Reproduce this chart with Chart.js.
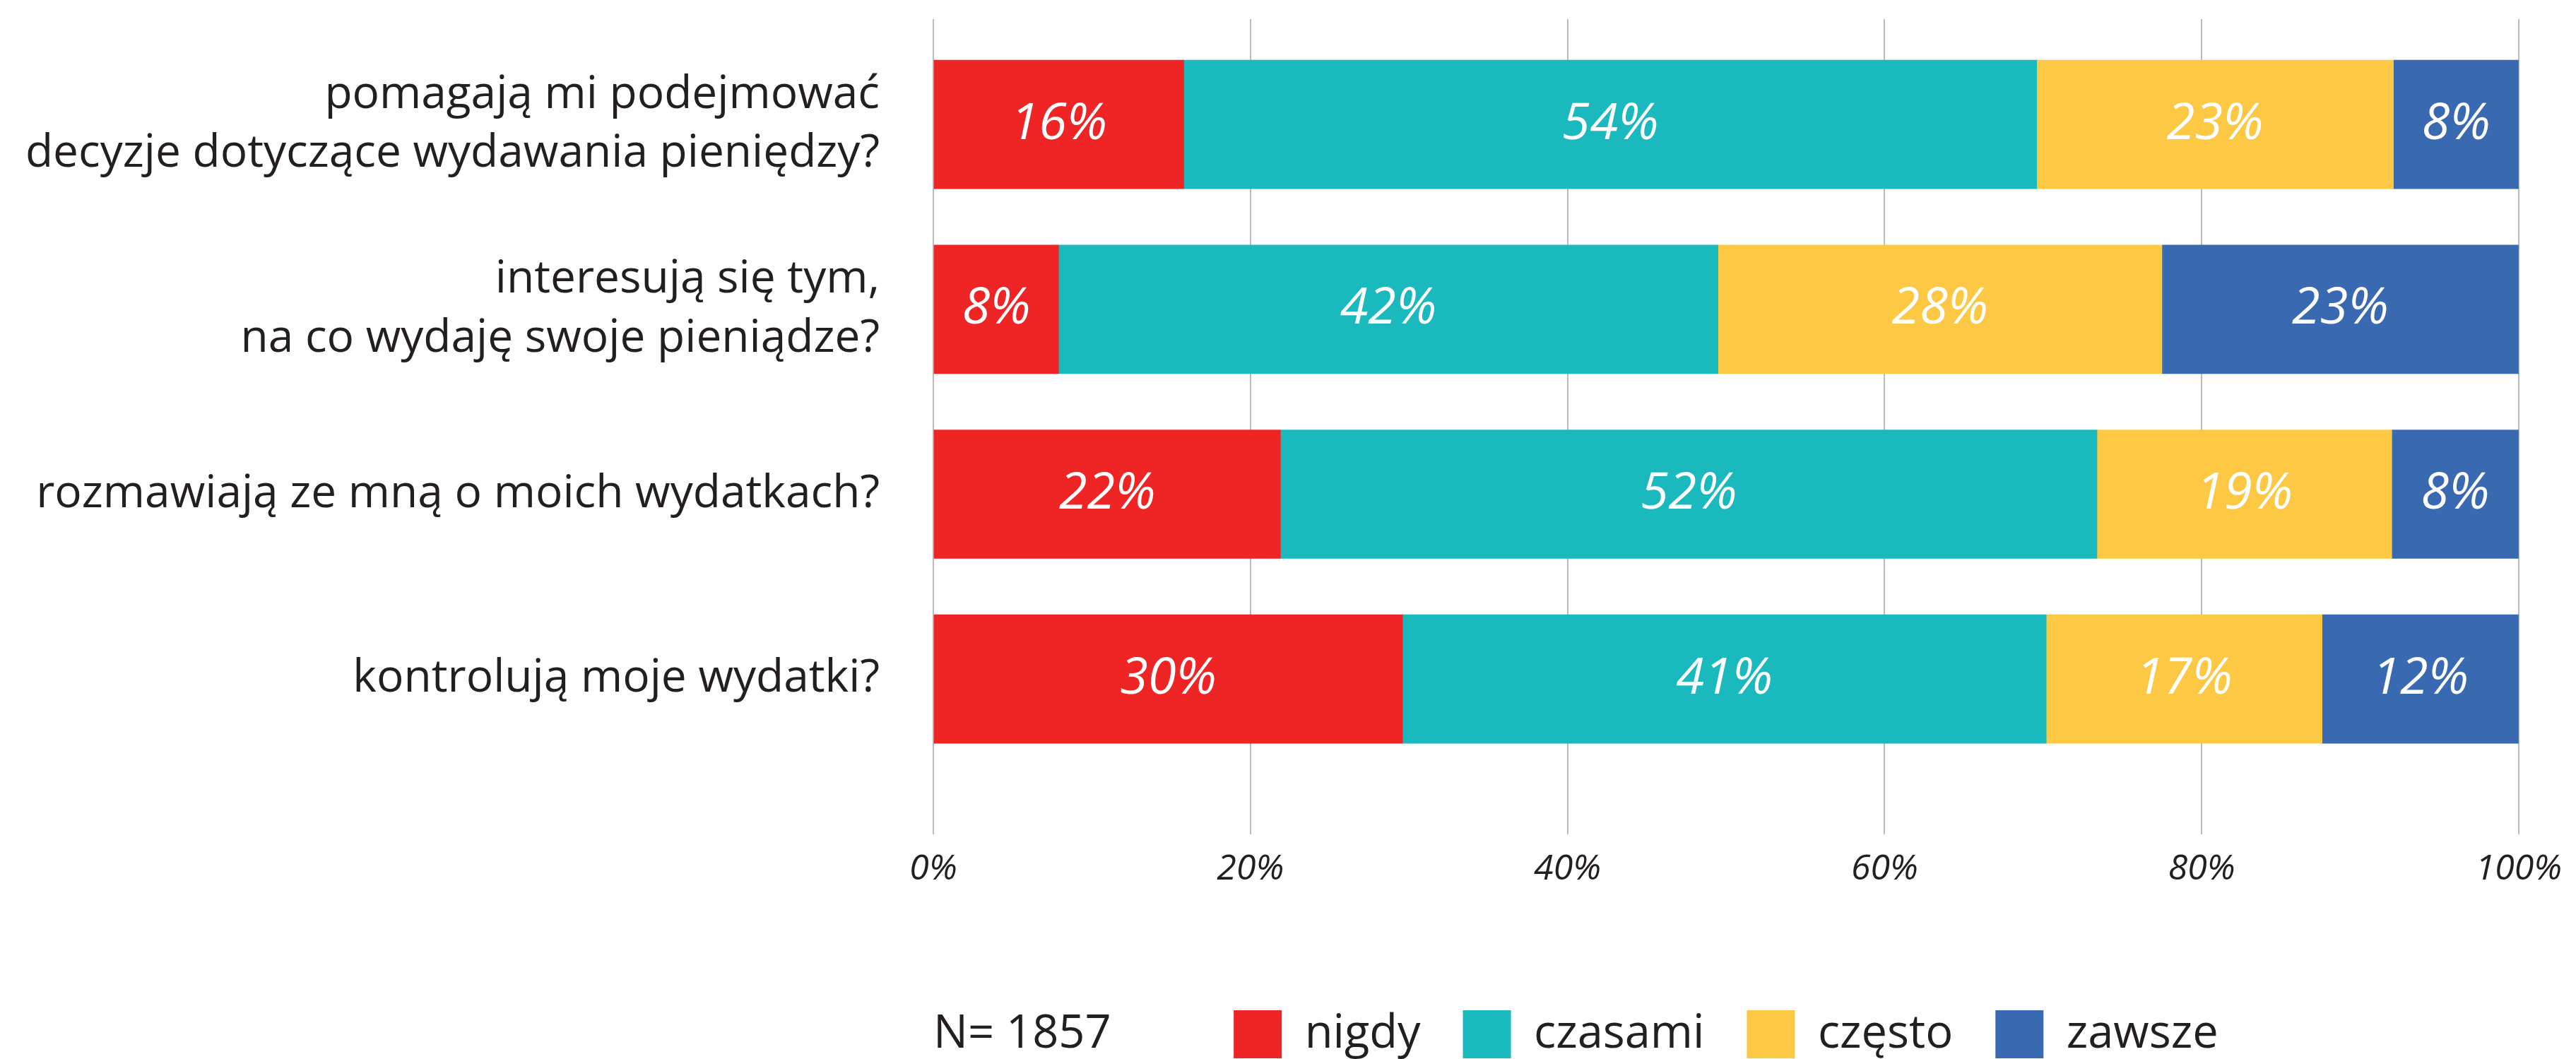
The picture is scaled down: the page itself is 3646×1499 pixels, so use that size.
<!DOCTYPE html>
<html>
<head>
<meta charset="utf-8">
<script src="https://cdn.jsdelivr.net/npm/chart.js@4"></script>
<style>
  html, body { margin: 0; padding: 0; background: #fff; }
  canvas { display: block; }
</style>
</head>
<body>
<canvas id="chart" width="3646" height="1499"></canvas>
<script>
const questions = [
  ['pomagają mi podejmować', 'decyzje dotyczące wydawania pieniędzy?'],
  ['interesują się tym,', 'na co wydaję swoje pieniądze?'],
  'rozmawiają ze mną o moich wydatkach?',
  'kontrolują moje wydatki?'
];
// shares in %, labels on the bars show them rounded
const nigdy   = [15.8, 7.9, 21.9, 29.6];
const czasami = [53.8, 41.6, 51.5, 40.6];
const czesto  = [22.5, 28.0, 18.6, 17.4];
const zawsze  = [7.9, 22.5, 8.0, 12.4];
const seriesNames = ['nigdy', 'czasami', 'często', 'zawsze'];
const seriesColors = ['#ee2524', '#19b9be', '#fdc844', '#3869b1'];
const xTicks = [0, 20, 40, 60, 80, 100];
const sampleNote = 'N= 1857';

const textColor = '#231f20';
const font = 'Open Sans';

// white % labels in the middle of each segment
const barLabels = {
  id: 'barLabels',
  afterDatasetsDraw(chart) {
    const ctx = chart.ctx;
    ctx.save();
    ctx.fillStyle = '#fff';
    ctx.font = 'italic 72px "' + font + '"';
    ctx.textAlign = 'center';
    ctx.textBaseline = 'middle';
    chart.data.datasets.forEach((ds, i) => {
      chart.getDatasetMeta(i).data.forEach((bar, j) => {
        const p = bar.getProps(['x', 'y', 'base'], true);
        ctx.fillText(Math.round(ds.data[j].x) + '%', (p.x + p.base) / 2, p.y);
      });
    });
    ctx.restore();
  }
};

// "N= 1857" on the legend row, under the 0% line
const sampleSize = {
  id: 'sampleSize',
  afterDraw(chart) {
    const box = chart.legend.legendHitBoxes[0];
    const ctx = chart.ctx;
    ctx.save();
    ctx.fillStyle = textColor;
    ctx.font = '65px "' + font + '"';
    ctx.textAlign = 'left';
    ctx.textBaseline = 'middle';
    ctx.fillText(sampleNote, chart.chartArea.left, box.top + box.height / 2);
    ctx.restore();
  }
};

const series = [nigdy, czasami, czesto, zawsze];

new Chart(document.getElementById('chart'), {
  type: 'bar',
  data: {
    datasets: series.map((arr, k) => ({
      label: seriesNames[k],
      data: arr.map((v, i) => ({ x: v, y: i })),
      backgroundColor: seriesColors[k],
      borderWidth: 0,
      barThickness: 182
    }))
  },
  options: {
    indexAxis: 'y',
    responsive: false,
    animation: false,
    layout: { padding: { top: 27, right: 77, bottom: -9, left: 0 } },
    scales: {
      x: {
        type: 'linear',
        stacked: true,
        min: 0,
        max: 100,
        afterBuildTicks: (axis) => { axis.ticks = xTicks.map(v => ({ value: v })); },
        afterFit: (axis) => { axis.height = 189; },
        grid: { color: '#bbbbbb', lineWidth: 2, drawTicks: false },
        border: { display: false },
        ticks: {
          padding: 20,
          color: textColor,
          font: { family: font, size: 50, style: 'italic' },
          callback: (v) => v + '%'
        }
      },
      y: {
        type: 'linear',
        reverse: true,
        stacked: true,
        offset: false,
        min: -0.57,
        max: 3.84,
        afterBuildTicks: (axis) => { axis.ticks = questions.map((q, i) => ({ value: i })); },
        afterFit: (axis) => { axis.width = 1321; axis.paddingTop = 0; axis.paddingBottom = 0; },
        grid: { display: false, drawTicks: false },
        border: { display: false },
        ticks: {
          autoSkip: false,
          padding: 76,
          color: textColor,
          font: { family: font, size: 64, lineHeight: 1.3 },
          callback: (v) => questions[v]
        }
      }
    },
    plugins: {
      legend: {
        position: 'bottom',
        fullSize: false,
        align: 'center',
        labels: {
          boxWidth: 68,
          boxHeight: 68,
          padding: 60,
          color: textColor,
          font: { family: font, size: 65 }
        }
      },
      tooltip: { enabled: false }
    }
  },
  plugins: [barLabels, sampleSize]
});
</script>
</body>
</html>
